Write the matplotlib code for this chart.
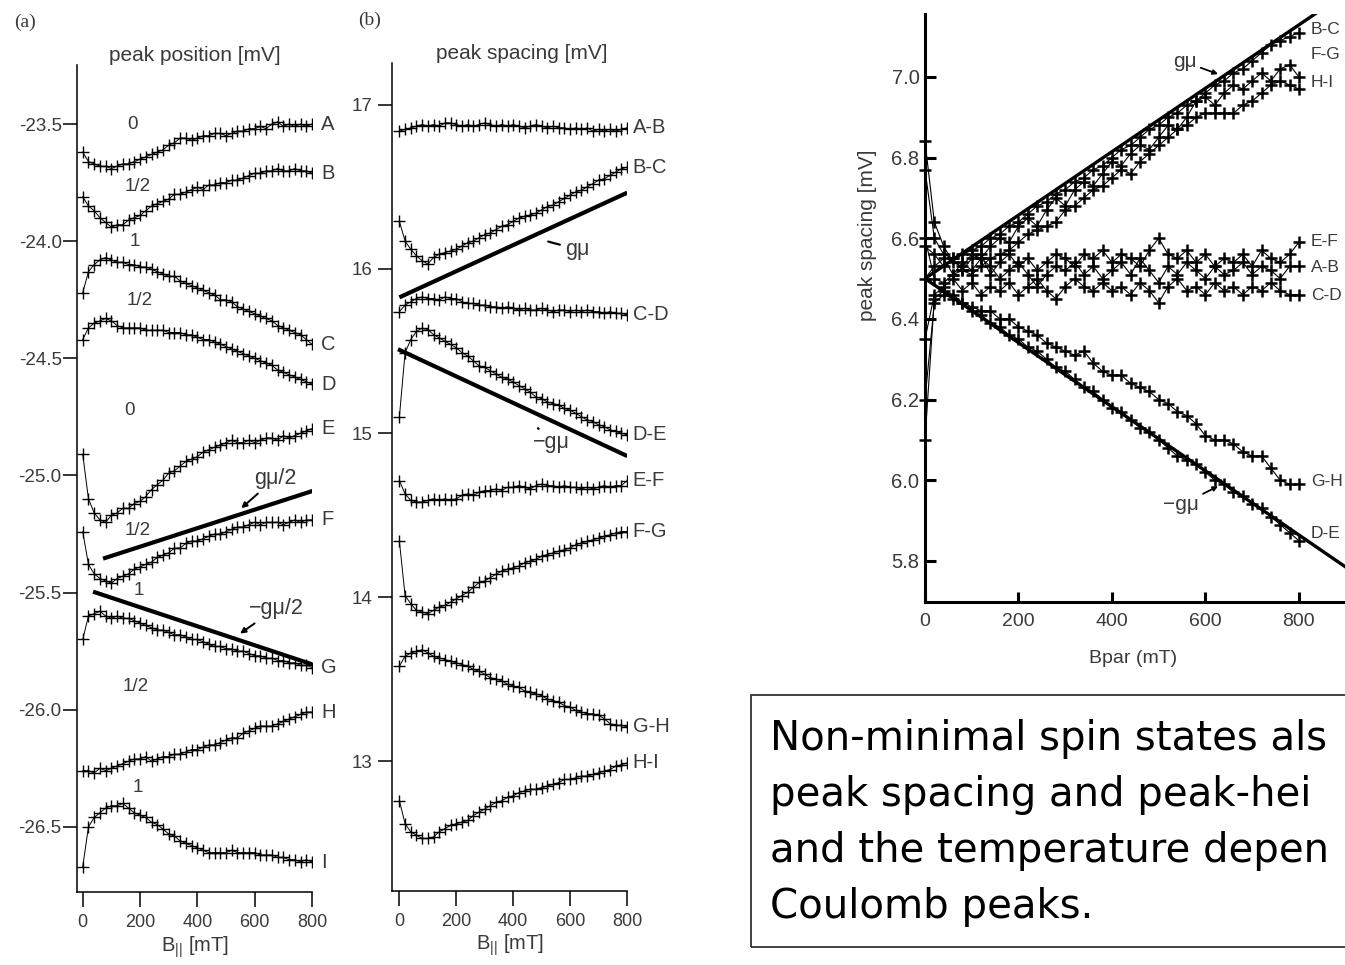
import matplotlib
matplotlib.use('Agg')
import matplotlib.pyplot as plt
from matplotlib.patches import Rectangle

# Schriften: schmale Sans fuer die Achsen, normale Sans fuer den Textkasten
plt.rcParams['font.family'] = ['Liberation Sans Narrow', 'Liberation Sans', 'DejaVu Sans']
plt.rcParams['mathtext.fontset'] = 'custom'
plt.rcParams['mathtext.rm'] = 'Liberation Sans'
plt.rcParams['mathtext.it'] = 'Liberation Sans'

# Magnetfeld B|| [mT], gleich fuer alle Kurven
b_feld = [0, 20, 40, 60, 80, 100, 120, 140, 160, 180, 200,
          220, 240, 260, 280, 300, 320, 340, 360, 380, 400,
          420, 440, 460, 480, 500, 520, 540, 560, 580, 600,
          620, 640, 660, 680, 700, 720, 740, 760, 780, 800]

# (a) Peak-Positionen [mV]
pos_A = [-23.62, -23.66, -23.67, -23.68, -23.68, -23.69, -23.68, -23.67, -23.67, -23.66, -23.65,
         -23.64, -23.63, -23.62, -23.61, -23.59, -23.58, -23.56, -23.56, -23.57, -23.56,
         -23.55, -23.55, -23.54, -23.54, -23.55, -23.54, -23.53, -23.53, -23.52, -23.52,
         -23.51, -23.52, -23.50, -23.49, -23.51, -23.50, -23.51, -23.50, -23.51, -23.50]
pos_B = [-23.81, -23.85, -23.87, -23.90, -23.92, -23.94, -23.93, -23.93, -23.91, -23.90, -23.89,
         -23.87, -23.85, -23.84, -23.83, -23.82, -23.80, -23.80, -23.79, -23.78, -23.77,
         -23.78, -23.76, -23.76, -23.75, -23.75, -23.74, -23.74, -23.73, -23.72, -23.71,
         -23.71, -23.70, -23.70, -23.69, -23.70, -23.70, -23.69, -23.70, -23.70, -23.71]
pos_C = [-24.22, -24.13, -24.10, -24.08, -24.07, -24.08, -24.09, -24.09, -24.10, -24.10, -24.11,
         -24.11, -24.12, -24.13, -24.14, -24.15, -24.15, -24.17, -24.18, -24.19, -24.20,
         -24.21, -24.22, -24.23, -24.25, -24.25, -24.26, -24.28, -24.29, -24.30, -24.31,
         -24.32, -24.33, -24.34, -24.36, -24.37, -24.38, -24.39, -24.40, -24.42, -24.44]
pos_D = [-24.42, -24.37, -24.35, -24.34, -24.33, -24.34, -24.36, -24.37, -24.37, -24.37, -24.37,
         -24.38, -24.38, -24.38, -24.38, -24.39, -24.39, -24.39, -24.40, -24.40, -24.41,
         -24.42, -24.42, -24.43, -24.44, -24.45, -24.46, -24.47, -24.48, -24.49, -24.50,
         -24.51, -24.52, -24.53, -24.55, -24.56, -24.57, -24.58, -24.59, -24.60, -24.61]
pos_E = [-24.91, -25.10, -25.16, -25.19, -25.20, -25.17, -25.16, -25.14, -25.14, -25.12, -25.11,
         -25.09, -25.06, -25.04, -25.02, -24.99, -24.98, -24.96, -24.94, -24.93, -24.92,
         -24.90, -24.89, -24.88, -24.87, -24.86, -24.85, -24.86, -24.86, -24.85, -24.86,
         -24.85, -24.84, -24.84, -24.85, -24.83, -24.84, -24.83, -24.82, -24.81, -24.80]
pos_F = [-25.24, -25.38, -25.42, -25.44, -25.45, -25.46, -25.44, -25.43, -25.42, -25.40, -25.39,
         -25.38, -25.37, -25.35, -25.34, -25.33, -25.31, -25.31, -25.29, -25.28, -25.28,
         -25.27, -25.26, -25.25, -25.25, -25.24, -25.23, -25.22, -25.22, -25.21, -25.20,
         -25.21, -25.20, -25.20, -25.20, -25.21, -25.20, -25.19, -25.20, -25.19, -25.19]
pos_G = [-25.70, -25.60, -25.59, -25.58, -25.60, -25.61, -25.60, -25.61, -25.61, -25.62, -25.63,
         -25.64, -25.65, -25.66, -25.66, -25.67, -25.68, -25.68, -25.69, -25.70, -25.70,
         -25.71, -25.72, -25.73, -25.73, -25.74, -25.74, -25.75, -25.75, -25.76, -25.77,
         -25.77, -25.78, -25.78, -25.79, -25.79, -25.80, -25.80, -25.81, -25.81, -25.82]
pos_H = [-26.26, -26.26, -26.27, -26.25, -26.26, -26.25, -26.24, -26.23, -26.22, -26.21, -26.21,
         -26.20, -26.22, -26.21, -26.20, -26.20, -26.19, -26.19, -26.18, -26.17, -26.17,
         -26.16, -26.15, -26.15, -26.14, -26.13, -26.12, -26.12, -26.10, -26.09, -26.08,
         -26.07, -26.07, -26.07, -26.06, -26.05, -26.04, -26.03, -26.02, -26.01, -26.01]
pos_I = [-26.67, -26.50, -26.46, -26.44, -26.42, -26.41, -26.41, -26.40, -26.42, -26.44, -26.45,
         -26.46, -26.48, -26.49, -26.51, -26.53, -26.54, -26.56, -26.57, -26.58, -26.59,
         -26.60, -26.61, -26.61, -26.61, -26.61, -26.60, -26.61, -26.61, -26.61, -26.61,
         -26.62, -26.62, -26.62, -26.63, -26.63, -26.64, -26.64, -26.65, -26.64, -26.65]
pos_kurven = [pos_A, pos_B, pos_C, pos_D, pos_E, pos_F, pos_G, pos_H, pos_I]
pos_namen = ['A', 'B', 'C', 'D', 'E', 'F', 'G', 'H', 'I']

# Spin-Beschriftungen in (a)
spin_text = ['0', '1/2', '1', '1/2', '0', '1/2', '1', '1/2', '1']
spin_b = [175, 193, 182, 200, 162, 193, 196, 186, 193]
spin_v = [-23.50, -23.765, -24.0, -24.252, -24.722, -25.235, -25.491, -25.902, -26.333]

# Zeeman-Geraden in (a)
gmu_halb_b = [71, 805]
gmu_halb_v = [-25.355, -25.065]
mgmu_halb_b = [36, 805]
mgmu_halb_v = [-25.496, -25.808]

# (b) Peak-Abstaende [mV]
abst_AB = [16.84, 16.85, 16.86, 16.87, 16.88, 16.87, 16.88, 16.87, 16.89, 16.89, 16.88,
           16.87, 16.88, 16.87, 16.88, 16.89, 16.88, 16.87, 16.88, 16.87, 16.88,
           16.87, 16.86, 16.87, 16.88, 16.87, 16.86, 16.87, 16.86, 16.86, 16.85,
           16.86, 16.85, 16.86, 16.84, 16.85, 16.84, 16.85, 16.84, 16.85, 16.86]
abst_BC = [16.29, 16.17, 16.12, 16.08, 16.05, 16.03, 16.07, 16.09, 16.10, 16.11, 16.12,
           16.14, 16.16, 16.17, 16.19, 16.21, 16.22, 16.24, 16.26, 16.27, 16.29,
           16.31, 16.32, 16.33, 16.34, 16.36, 16.38, 16.39, 16.41, 16.43, 16.45,
           16.47, 16.48, 16.50, 16.52, 16.54, 16.55, 16.57, 16.59, 16.61, 16.62]
abst_CD = [15.74, 15.78, 15.80, 15.82, 15.83, 15.82, 15.82, 15.81, 15.83, 15.82, 15.82,
           15.80, 15.79, 15.79, 15.78, 15.78, 15.77, 15.77, 15.76, 15.77, 15.76,
           15.75, 15.76, 15.75, 15.75, 15.76, 15.75, 15.74, 15.75, 15.75, 15.74,
           15.75, 15.74, 15.75, 15.74, 15.74, 15.73, 15.74, 15.73, 15.73, 15.72]
abst_DE = [15.10, 15.49, 15.57, 15.62, 15.64, 15.63, 15.60, 15.58, 15.56, 15.54, 15.52,
           15.49, 15.47, 15.44, 15.41, 15.40, 15.38, 15.36, 15.34, 15.33, 15.31,
           15.29, 15.27, 15.25, 15.22, 15.21, 15.19, 15.18, 15.17, 15.15, 15.14,
           15.12, 15.10, 15.08, 15.07, 15.05, 15.04, 15.02, 15.01, 15.00, 14.99]
abst_EF = [14.71, 14.63, 14.59, 14.58, 14.58, 14.59, 14.60, 14.59, 14.60, 14.59, 14.60,
           14.62, 14.63, 14.62, 14.64, 14.65, 14.65, 14.66, 14.65, 14.67, 14.67,
           14.68, 14.67, 14.66, 14.68, 14.69, 14.68, 14.68, 14.67, 14.68, 14.67,
           14.67, 14.66, 14.67, 14.66, 14.67, 14.68, 14.67, 14.68, 14.68, 14.71]
abst_FG = [14.34, 14.01, 13.96, 13.92, 13.91, 13.90, 13.92, 13.94, 13.95, 13.97, 13.99,
           14.01, 14.03, 14.06, 14.09, 14.10, 14.12, 14.14, 14.16, 14.17, 14.18,
           14.19, 14.21, 14.22, 14.23, 14.25, 14.26, 14.27, 14.28, 14.29, 14.30,
           14.32, 14.33, 14.34, 14.35, 14.36, 14.37, 14.38, 14.39, 14.40, 14.40]
abst_GH = [13.58, 13.64, 13.66, 13.67, 13.68, 13.66, 13.64, 13.63, 13.62, 13.61, 13.60,
           13.59, 13.58, 13.56, 13.55, 13.53, 13.51, 13.50, 13.49, 13.47, 13.46,
           13.45, 13.43, 13.42, 13.41, 13.40, 13.38, 13.37, 13.36, 13.34, 13.33,
           13.31, 13.30, 13.29, 13.29, 13.28, 13.26, 13.23, 13.22, 13.22, 13.21]
abst_HI = [12.76, 12.62, 12.57, 12.55, 12.53, 12.53, 12.54, 12.57, 12.59, 12.61, 12.62,
           12.63, 12.64, 12.67, 12.69, 12.71, 12.73, 12.75, 12.76, 12.78, 12.79,
           12.81, 12.82, 12.83, 12.83, 12.84, 12.85, 12.86, 12.87, 12.89, 12.89,
           12.90, 12.91, 12.91, 12.92, 12.93, 12.94, 12.95, 12.97, 12.98, 12.99]
abst_kurven = [abst_AB, abst_BC, abst_CD, abst_DE, abst_EF, abst_FG, abst_GH, abst_HI]
abst_namen = ['A-B', 'B-C', 'C-D', 'D-E', 'E-F', 'F-G', 'G-H', 'H-I']

# Zeeman-Geraden in (b)
gmu_b = [0, 801]
gmu_v = [15.827, 16.465]
mgmu_b = [-5, 801]
mgmu_v = [15.511, 14.860]

# (c) Peak-Abstaende zweite Probe [mV]
c_BC = [6.77, 6.60, 6.56, 6.55, 6.56, 6.57, 6.58, 6.60, 6.61, 6.63, 6.64,
        6.66, 6.68, 6.69, 6.71, 6.72, 6.74, 6.75, 6.77, 6.78, 6.80,
        6.82, 6.83, 6.85, 6.87, 6.88, 6.90, 6.91, 6.93, 6.94, 6.96,
        6.98, 6.99, 7.01, 7.02, 7.04, 7.06, 7.08, 7.09, 7.10, 7.11]
c_FG = [6.84, 6.64, 6.58, 6.54, 6.53, 6.56, 6.55, 6.58, 6.60, 6.59, 6.63,
        6.65, 6.63, 6.67, 6.70, 6.68, 6.72, 6.74, 6.73, 6.76, 6.79,
        6.78, 6.81, 6.83, 6.82, 6.85, 6.88, 6.87, 6.90, 6.94, 6.95,
        6.93, 6.96, 6.98, 6.97, 6.99, 7.01, 6.99, 7.02, 7.03, 7.00]
c_HI = [6.60, 6.50, 6.49, 6.51, 6.52, 6.51, 6.53, 6.55, 6.56, 6.57, 6.59,
        6.61, 6.62, 6.63, 6.64, 6.67, 6.68, 6.70, 6.72, 6.73, 6.75,
        6.77, 6.76, 6.79, 6.81, 6.83, 6.85, 6.87, 6.88, 6.90, 6.91,
        6.91, 6.91, 6.91, 6.93, 6.94, 6.96, 6.98, 6.99, 6.98, 6.97]
c_EF = [6.58, 6.56, 6.53, 6.55, 6.52, 6.55, 6.56, 6.51, 6.54, 6.56, 6.53,
        6.55, 6.52, 6.54, 6.56, 6.55, 6.53, 6.56, 6.55, 6.57, 6.54,
        6.56, 6.55, 6.53, 6.57, 6.60, 6.56, 6.55, 6.57, 6.54, 6.56,
        6.53, 6.55, 6.54, 6.56, 6.53, 6.57, 6.55, 6.54, 6.56, 6.59]
c_AB = [6.50, 6.53, 6.55, 6.51, 6.54, 6.52, 6.55, 6.53, 6.50, 6.52, 6.54,
        6.51, 6.48, 6.51, 6.53, 6.52, 6.54, 6.51, 6.53, 6.50, 6.52,
        6.54, 6.51, 6.55, 6.52, 6.49, 6.53, 6.51, 6.54, 6.52, 6.50,
        6.53, 6.51, 6.52, 6.54, 6.51, 6.53, 6.52, 6.50, 6.53, 6.53]
c_CD = [6.35, 6.46, 6.48, 6.50, 6.47, 6.49, 6.46, 6.48, 6.47, 6.49, 6.46,
        6.48, 6.50, 6.47, 6.45, 6.48, 6.50, 6.48, 6.47, 6.49, 6.47,
        6.48, 6.46, 6.49, 6.47, 6.44, 6.48, 6.50, 6.47, 6.48, 6.46,
        6.49, 6.47, 6.48, 6.46, 6.48, 6.47, 6.49, 6.47, 6.46, 6.46]
c_GH = [6.20, 6.44, 6.46, 6.45, 6.44, 6.43, 6.42, 6.42, 6.40, 6.40, 6.38,
        6.37, 6.36, 6.34, 6.33, 6.32, 6.31, 6.32, 6.29, 6.27, 6.26,
        6.26, 6.24, 6.23, 6.22, 6.20, 6.19, 6.17, 6.16, 6.14, 6.11,
        6.10, 6.10, 6.09, 6.07, 6.06, 6.06, 6.03, 6.00, 5.99, 5.99]
c_DE = [6.10, 6.45, 6.47, 6.46, 6.44, 6.42, 6.41, 6.39, 6.38, 6.36, 6.35,
        6.33, 6.32, 6.30, 6.28, 6.27, 6.25, 6.23, 6.22, 6.20, 6.18,
        6.17, 6.15, 6.13, 6.12, 6.10, 6.08, 6.06, 6.05, 6.04, 6.02,
        6.00, 5.99, 5.97, 5.96, 5.94, 5.93, 5.91, 5.89, 5.87, 5.85]
c_kurven = [c_BC, c_FG, c_HI, c_EF, c_AB, c_CD, c_GH, c_DE]
c_namen = ['B-C', 'F-G', 'H-I', 'E-F', 'A-B', 'C-D', 'G-H', 'D-E']
c_label_y = [7.117, 7.055, 6.985, 6.591, 6.527, 6.457, 5.996, 5.867]

# Zeeman-Geraden in (c)
c_gmu_b = [0, 950]
c_gmu_v = [6.50, 7.247]
c_mgmu_v = [6.50, 5.745]

# sichtbarer Teil des Textkastens (rechts vom Bildrand abgeschnitten)
textzeilen = ['Non-minimal spin states als',
              'peak spacing and peak-hei',
              'and the temperature depen',
              'Coulomb peaks.']

grau = '#3a3a3a'
W, H = 1345, 965

fig = plt.figure(figsize=(W / 100, H / 100), dpi=100)


def achsen_ab(ax, xlim, ylim, pad_y):
    ax.set_xlim(*xlim)
    ax.set_ylim(*ylim)
    for s in ['top', 'right']:
        ax.spines[s].set_visible(False)
    for s in ['left', 'bottom']:
        ax.spines[s].set_linewidth(1.1)
    ax.set_xticks([0, 200, 400, 600, 800])
    ax.tick_params(axis='x', direction='out', length=11, width=1.1, pad=5,
                   labelsize=13, labelcolor=grau)
    ax.tick_params(axis='y', direction='out', length=10, width=1.1, pad=pad_y,
                   labelsize=13.5, labelcolor=grau)
    ax.set_xlabel(r'B$_{\mathrm{||}}$ [mT]', fontsize=14.5, color=grau, labelpad=2)


# Plot (a): Peak-Positionen
ax_a = fig.add_axes([77 / W, (H - 892) / H, 235 / W, 827 / H])
achsen_ab(ax_a, (-20, 800), (-26.778, -23.248), 1)
ax_a.set_yticks([-26.5, -26.0, -25.5, -25.0, -24.5, -24.0, -23.5])
ax_a.set_yticklabels(['-26.5', '-26.0', '-25.5', '-25.0', '-24.5', '-24.0', '-23.5'])
for werte, name in zip(pos_kurven, pos_namen):
    ax_a.plot(b_feld, werte, color='k', lw=0.7, marker='+', ms=8, mew=1.0)
    ax_a.text(832, werte[-1], name, fontsize=14.5, color=grau, ha='left', va='center', clip_on=False)
for t, b, v in zip(spin_text, spin_b, spin_v):
    ax_a.text(b, v, t, fontsize=13.5, color=grau, ha='center', va='center')
ax_a.plot(gmu_halb_b, gmu_halb_v, color='k', lw=3, solid_capstyle='butt')
ax_a.plot(mgmu_halb_b, mgmu_halb_v, color='k', lw=3, solid_capstyle='butt')
ax_a.annotate('gμ/2', xy=(553, -25.14), xytext=(671, -25.013), fontsize=15.5, color=grau,
              ha='center', va='center',
              arrowprops=dict(arrowstyle='-|>', lw=1.4, color='k', mutation_scale=8, shrinkA=2, shrinkB=0))
ax_a.annotate('\u2212gμ/2', xy=(549, -25.675), xytext=(674, -25.568), fontsize=15.5, color=grau,
              ha='center', va='center',
              arrowprops=dict(arrowstyle='-|>', lw=1.4, color='k', mutation_scale=8, shrinkA=2, shrinkB=0))
ax_a.text(0.5, 1.0, 'peak position [mV]', transform=ax_a.transAxes, fontsize=15,
          color=grau, ha='center', va='bottom')
fig.text(25 / W, 1 - 22 / H, '(a)', fontsize=14, family=['Liberation Serif', 'DejaVu Serif'],
         ha='center', va='center', color=grau)

# Plot (b): Peak-Abstaende
ax_b = fig.add_axes([392 / W, (H - 891) / H, 235 / W, 828 / H])
achsen_ab(ax_b, (-26, 800), (12.21, 17.255), 4)
ax_b.set_yticks([13, 14, 15, 16, 17])
for werte, name in zip(abst_kurven, abst_namen):
    ax_b.plot(b_feld, werte, color='k', lw=0.7, marker='+', ms=8, mew=1.0)
    ax_b.text(820, werte[-1], name, fontsize=14.5, color=grau, ha='left', va='center', clip_on=False)
ax_b.plot(gmu_b, gmu_v, color='k', lw=3, solid_capstyle='butt')
ax_b.plot(mgmu_b, mgmu_v, color='k', lw=3, solid_capstyle='butt')
ax_b.annotate('gμ', xy=(523, 16.167), xytext=(626, 16.119), fontsize=15.5, color=grau,
              ha='center', va='center',
              arrowprops=dict(arrowstyle='-', lw=1.6, color='k', shrinkA=2, shrinkB=0))
ax_b.annotate('\u2212gμ', xy=(487, 15.03), xytext=(535, 14.945), fontsize=15.5, color=grau,
              ha='center', va='center',
              arrowprops=dict(arrowstyle='-', lw=1.6, color='k', shrinkA=4, shrinkB=0))
ax_b.text(0.55, 1.0, 'peak spacing [mV]', transform=ax_b.transAxes, fontsize=15,
          color=grau, ha='center', va='bottom')
fig.text(370 / W, 1 - 20 / H, '(b)', fontsize=14, family=['Liberation Serif', 'DejaVu Serif'],
         ha='center', va='center', color=grau)

# Plot (c): Peak-Abstaende, zweite Messung
ax_c = fig.add_axes([925 / W, (H - 602) / H, 444 / W, 588 / H])
ax_c.set_xlim(0, 950)
ax_c.set_ylim(5.698, 7.156)
for s in ['top', 'right']:
    ax_c.spines[s].set_visible(False)
for s in ['left', 'bottom']:
    ax_c.spines[s].set_linewidth(2.2)
ax_c.set_xticks([0, 200, 400, 600, 800])
ax_c.set_yticks([5.8, 6.0, 6.2, 6.4, 6.6, 6.8, 7.0])
ax_c.set_yticklabels(['5.8', '6.0', '6.2', '6.4', '6.6', '6.8', '7.0'])
ax_c.tick_params(axis='x', direction='in', length=7, width=2.2, pad=8, labelsize=14, labelcolor=grau)
ax_c.tick_params(axis='y', direction='in', length=8, width=2.2, pad=4, labelsize=14.5, labelcolor=grau)
for werte in c_kurven:
    ax_c.plot(b_feld, werte, color='k', lw=0.8, marker='+', ms=9, mew=1.8, clip_on=False)
for name, y in zip(c_namen, c_label_y):
    ax_c.text(826, y, name, fontsize=12.5, color=grau, ha='left', va='center')
ax_c.plot(c_gmu_b, c_gmu_v, color='k', lw=2.4)
ax_c.plot(c_gmu_b, c_mgmu_v, color='k', lw=2.4)
ax_c.annotate('gμ', xy=(627, 7.007), xytext=(556, 7.037), fontsize=15, color=grau,
              ha='center', va='center',
              arrowprops=dict(arrowstyle='-|>', lw=1.3, color='k', mutation_scale=7, shrinkA=1, shrinkB=0))
ax_c.annotate('\u2212gμ', xy=(627, 5.985), xytext=(548, 5.939), fontsize=15, color=grau,
              ha='center', va='center',
              arrowprops=dict(arrowstyle='-|>', lw=1.3, color='k', mutation_scale=7, shrinkA=1, shrinkB=0))
ax_c.set_ylabel('peak spacing [mV]', fontsize=15, color=grau)
ax_c.yaxis.set_label_coords(-0.108, (602 - 235) / 588)
ax_c.set_xlabel('Bpar (mT)', fontsize=14, color=grau)
ax_c.xaxis.set_label_coords((1133 - 925) / 444, -48 / 588)

# Textkasten unten rechts
fig.add_artist(Rectangle((751 / W, (H - 947) / H), 700 / W, 252 / H, transform=fig.transFigure,
                         fill=False, lw=1.3, ec='#333333'))
for i, zeile in enumerate(textzeilen):
    fig.text(770 / W, 1 - (750 + 56 * i) / H, zeile, fontsize=29,
             family=['DejaVu Sans'], ha='left', va='baseline', color='k')

fig.savefig('out.png', dpi=100)
